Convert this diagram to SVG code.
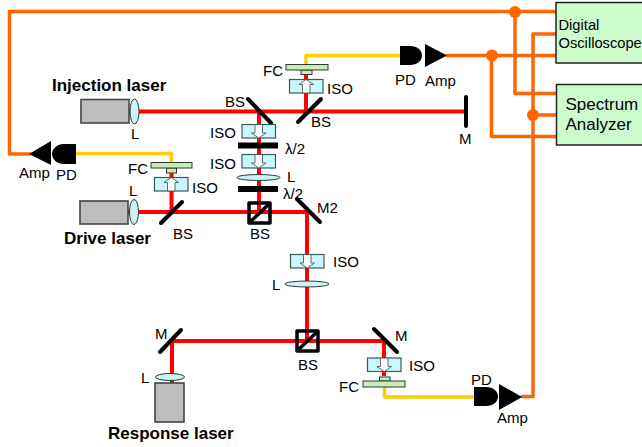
<svg xmlns="http://www.w3.org/2000/svg" width="642" height="447" viewBox="0 0 642 447">
<style>
text{font-family:"Liberation Sans",Arial,sans-serif;font-size:15px;fill:#000}
.b{font-weight:bold;font-size:17px}
.red{stroke:#f00;stroke-width:4;fill:none}
.or{stroke:#f60;stroke-width:3.5;fill:none;stroke-linejoin:round;stroke-linecap:round}
.ye{stroke:#fc0;stroke-width:3.5;fill:none;stroke-linejoin:round}
.mir{stroke:#000;stroke-width:4;stroke-linecap:round;fill:none}
.bar{fill:#000}
.iso{fill:#c8f8fb;stroke:#3c5a5a;stroke-width:1.2}
.lens{fill:#c8f4f6;stroke:#333;stroke-width:1}
.fc{fill:#c4f0b8;stroke:#333;stroke-width:1}
.las{fill:#bdbdbd;stroke:#444;stroke-width:1.6}
.box{fill:#ccfccc;stroke:#222;stroke-width:1.5}
.cube{fill:none;stroke:#000;stroke-width:3.5;stroke-linejoin:round}
.arr{fill:#fff;stroke:#444;stroke-width:.8}
</style>
<defs>
<g id="isoD"><rect class="iso" x="0" y="0" width="33.5" height="13.5"/><path class="arr" d="M13 0V8.500H9.500L16.700 13.500 24 8.500H20.500V0Z"/></g>
<g id="isoU"><rect class="iso" x="0" y="0" width="33.5" height="13.500"/><path class="arr" d="M13 13.500V5H9.500L16.700 0 24 5H20.500V13.500Z"/></g>
<g id="cube"><rect class="cube" x="0" y="0" width="21" height="20"/><path class="cube" d="M0 20 21 0"/></g>
</defs>
<g id="connectors">
<path class="red" d="M129 111.500H466M259 111.500V212M306 74V111.500M128 212H307V341M171.500 173V212M172 383V341H384V376"/>
<path class="ye" d="M76 153.500H171.500V162M306 64V55.500H400M384.500 387V397H475"/>
<path class="or" d="M556 11.500H9.500V154H30M447 55.500H556M491.500 55.500V136.500H556M515 11.500V93.500H556M556 34H533V396.500H522M533 115H556"/>
<circle cx="515" cy="12" r="6" fill="#f60"/><circle cx="492" cy="55.500" r="6" fill="#f60"/><circle cx="533" cy="115" r="6" fill="#f60"/>
</g>
<g id="injection-laser"><rect class="las" x="81" y="99.500" width="48" height="23.500"/><ellipse class="lens" cx="134.500" cy="111.500" rx="4.500" ry="12.500"/><text class="b" x="52" y="91">Injection laser</text><text x="131" y="139">L</text></g>
<g id="drive-laser"><rect class="las" x="80" y="201" width="48" height="23"/><ellipse class="lens" cx="134" cy="212" rx="4.500" ry="12.500"/><text class="b" x="64" y="244">Drive laser</text><text x="129" y="196">L</text></g>
<g id="response-laser"><rect class="las" x="155" y="383" width="29" height="39"/><ellipse class="lens" cx="170" cy="377" rx="14.500" ry="3.500"/><text class="b" x="108" y="439">Response laser</text><text x="141" y="383">L</text></g>
<g id="bs-top-left"><path class="mir" d="M248 99 271 123"/><text x="225" y="107">BS</text></g>
<g id="bs-top-right"><path class="mir" d="M298 122 321 99"/><text x="311" y="127">BS</text></g>
<g id="m-end"><path class="mir" d="M466 97V126"/><text x="459" y="144">M</text></g>
<g id="bs-drive"><path class="mir" d="M161 223 182 202"/><text x="173" y="239">BS</text></g>
<g id="m2"><path class="mir" d="M297 199 320 222"/><text x="317" y="213">M2</text></g>
<g id="m-left"><path class="mir" d="M160 352 181 330"/><text x="155" y="339">M</text></g>
<g id="m-right"><path class="mir" d="M374 329 397 352"/><text x="395" y="341">M</text></g>
<g id="bs-cube-1"><use href="#cube" x="249" y="203"/><text x="250" y="239">BS</text></g>
<g id="bs-cube-2"><use href="#cube" x="297" y="331"/><text x="298" y="370">BS</text></g>
<g id="iso-1"><use href="#isoD" x="242" y="124.500"/><text x="210" y="138">ISO</text></g>
<g id="hwp-1"><rect class="bar" x="238" y="142.500" width="40" height="6"/><text x="285" y="154">λ/2</text></g>
<g id="iso-2"><use href="#isoD" x="242" y="154.500"/><text x="210" y="169">ISO</text></g>
<g id="lens-mid"><ellipse class="lens" cx="258.500" cy="177.500" rx="21.500" ry="3"/><text x="287" y="181.500">L</text></g>
<g id="hwp-2"><rect class="bar" x="238" y="186" width="40" height="6"/><text x="283" y="199">λ/2</text></g>
<g id="iso-top"><use href="#isoU" x="289.500" y="79.500"/><text x="327" y="94">ISO</text></g>
<g id="fc-top"><rect class="fc" x="301" y="70" width="11" height="4.500"/><rect class="fc" x="286" y="64.500" width="42" height="5.500"/><text x="263" y="76">FC</text></g>
<g id="iso-drive"><use href="#isoU" x="154.500" y="177.500"/><text x="192" y="193">ISO</text></g>
<g id="fc-drive"><rect class="fc" x="166.500" y="168" width="10" height="5"/><rect class="fc" x="151" y="162.500" width="41" height="5.500"/><text x="128" y="174">FC</text></g>
<g id="iso-low"><use href="#isoD" x="290.500" y="254.500"/><text x="333" y="267">ISO</text></g>
<g id="lens-low"><ellipse class="lens" cx="307" cy="284" rx="22" ry="3"/><text x="272" y="290">L</text></g>
<g id="iso-right"><use href="#isoD" x="367.500" y="358"/><text x="409" y="371">ISO</text></g>
<g id="fc-right"><rect class="fc" x="379.500" y="377" width="10.500" height="4"/><rect class="fc" x="363" y="381" width="42" height="6"/><text x="339" y="392">FC</text></g>
<g id="amp-pd-left"><path d="M29 154 51 141V165Z"/><path d="M76 144H64C57 144 52 149 52 154S57 164 64 164H76Z"/><text x="19" y="178">Amp</text><text x="56" y="180">PD</text></g>
<g id="amp-pd-top"><path d="M400 46H410C417 46 422 50 422 55.500S417 65 410 65H400Z"/><path d="M425 44 447 55.500 425 67Z"/><text x="395" y="85">PD</text><text x="425" y="86">Amp</text></g>
<g id="amp-pd-bottom"><path d="M474 387H486C493 387 498 391 498 396.500S493 406 486 406H474Z"/><path d="M499 384 522 397 499 410Z"/><text x="471" y="385">PD</text><text x="497" y="423">Amp</text></g>
<g id="oscilloscope"><rect class="box" x="556" y="2.500" width="90" height="60.500"/><text x="558.500" y="30" style="font-size:14.700px">Digital</text><text x="558.500" y="48" style="font-size:14.700px">Oscilloscope</text></g>
<g id="analyzer"><rect class="box" x="556.500" y="84.500" width="90" height="60.500"/><text x="565.500" y="110" style="font-size:17px">Spectrum</text><text x="565.500" y="130" style="font-size:17px">Analyzer</text></g>
</svg>
